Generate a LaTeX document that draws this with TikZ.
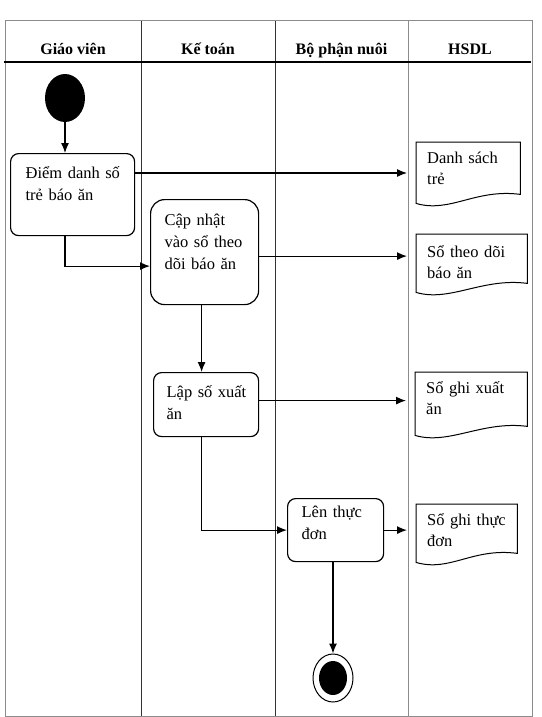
\documentclass[tikz,border=0pt]{standalone}
\usepackage{fontspec}
\setmainfont{Liberation Serif}
\usepackage{tikz}
\usetikzlibrary{shapes.geometric, arrows.meta}
\tikzstyle{activity} = [rectangle, draw=black, line width=1.2pt, anchor=north west, align=left, inner ysep=0pt, font=\fontsize{16.5}{21.7}\selectfont]
\tikzstyle{docu} = [rectangle, anchor=north west, align=left, inner xsep=11pt, inner ysep=0pt, text height=21pt, font=\fontsize{16.5}{21.7}\selectfont]
\tikzstyle{head} = [anchor=base, font=\bfseries\fontsize{16}{19}\selectfont]
\tikzstyle{arrow} = [line width=1.2pt,->,>={Latex[length=10pt,width=8pt]}]
\tikzstyle{todoc} = [arrow, shorten >=9pt]
\tikzstyle{lane} = [line width=1pt, draw=black!45]
% document symbol: flat top, wavy bottom
\newcommand{\docout}[1]{\draw[line width=1pt] (#1.south west) -- (#1.north west) -- (#1.north east) -- ([yshift=9pt]#1.south east) .. controls ([xshift=-45pt,yshift=15pt]#1.south east) and ([xshift=34pt,yshift=-10pt]#1.south west) .. (#1.south west) -- cycle;}

\begin{document}
\begin{tikzpicture}[x=1pt, y=-1pt]
\useasboundingbox (0,0) rectangle (541,717);

% swimlanes
\draw[lane] (5,21) rectangle (532,716);
\draw[lane] (408,21) -- (408,716);
\draw[lane, draw=black!80] (141,21) -- (141,716);
\draw[lane, draw=black!80] (275,21) -- (275,716);
\draw[line width=1.2pt] (4,62) -- (531,62);

\node (h1) [head] at (73,55) {Giáo viên};
\node (h2) [head] at (208,55) {Kế toán};
\node (h3) [head] at (341.5,55) {Bộ phận nuôi};
\node (h4) [head] at (470,55) {HSDL};

% activities
\node (start) [ellipse, fill=black, minimum width=40pt, minimum height=48pt, inner sep=0pt] at (65,98) {};
\node (b1) [activity, rounded corners=8pt, inner xsep=15pt, text width=94pt, text height=25pt, text depth=57pt] at (10,153) {\mbox{Điểm danh số}\\\mbox{trẻ báo ăn}};
\node (b2) [activity, rounded corners=14pt, inner xsep=14pt, text width=80pt, text height=26pt, text depth=79pt] at (150,199) {\mbox{Cập nhật}\\\mbox{vào sổ theo}\\\mbox{dõi báo ăn}};
\node (b3) [activity, rounded corners=8pt, inner xsep=13pt, text width=79pt, text height=25pt, text depth=39pt] at (153,372) {\mbox{Lập số xuất}\\\mbox{ăn}};
\node (b4) [activity, rounded corners=8pt, inner xsep=14pt, text width=68pt, text height=19pt, text depth=44pt] at (287,498) {\mbox{Lên thực}\\\mbox{đơn}};
\node (end) [ellipse, draw=black, line width=1pt, minimum width=40pt, minimum height=48pt, inner sep=0pt] at (333,678) {};
\node (endin) [ellipse, fill=black, minimum width=28pt, minimum height=34pt, inner sep=0pt] at (end) {};

% documents
\node (d1) [docu, text width=82pt, text depth=40pt] at (416,142) {\mbox{Danh sách}\\\mbox{trẻ}};
\node (d2) [docu, text width=89pt, text height=23pt, text depth=35pt] at (416,234) {\mbox{Sổ theo dõi}\\\mbox{báo ăn}};
\node (d3) [docu, text width=90pt, text depth=42pt] at (415,372) {\mbox{Sổ ghi xuất}\\\mbox{ăn}};
\node (d4) [docu, text width=79pt, text depth=37pt] at (416,504) {\mbox{Sổ ghi thực}\\\mbox{đơn}};
\docout{d1}
\docout{d2}
\docout{d3}
\docout{d4}

% flows
\coordinate (o1) at ([yshift=-20pt]b1.north east);
\coordinate (o2) at ([yshift=-4pt]b2.east);
\coordinate (o3) at ([xshift=-3pt]b2.south);
\coordinate (o4) at ([yshift=4pt]b3.east);
\draw [arrow] (start) -- (start |- b1.north);
\draw [todoc] (o1) -- (o1 -| d1.west);
\draw [arrow] (start |- b1.south) |- ([yshift=-14pt]b2.west);
\draw [todoc] (o2) -- (o2 -| d2.west);
\draw [arrow] (o3) -- (o3 |- b3.north);
\draw [todoc] (o4) -- (o4 -| d3.west);
\draw [arrow] (o3 |- b3.south) |- (b4.west);
\draw [todoc] (b4.east) -- (b4.east -| d4.west);
\draw [arrow] (b4.south -| end) -- (end.north);
\end{tikzpicture}
\end{document}
